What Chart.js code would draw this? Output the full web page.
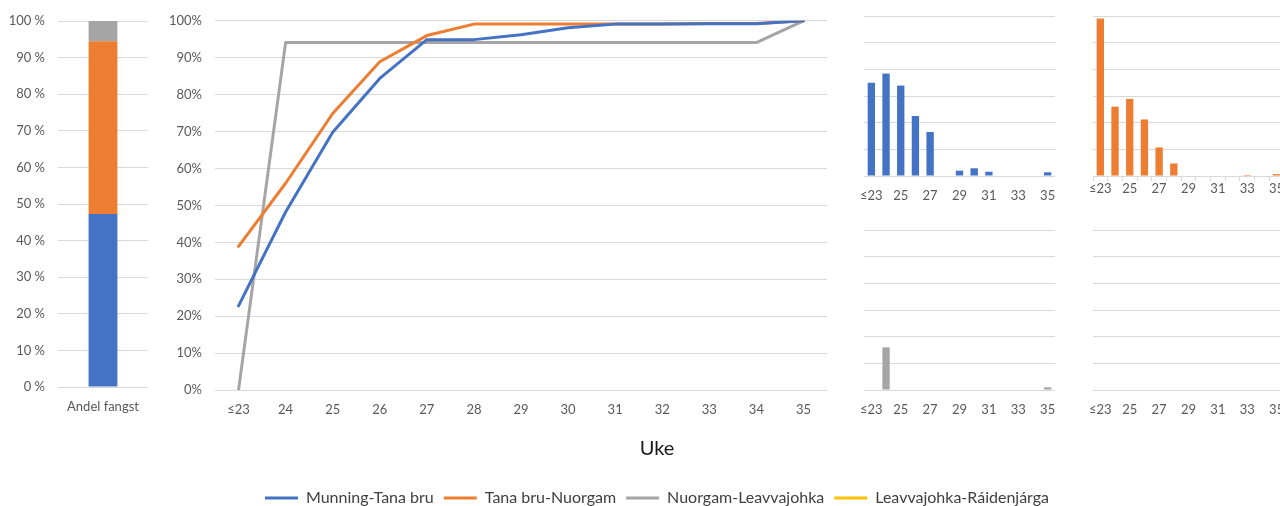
<!DOCTYPE html>
<html lang="no">
<head>
<meta charset="utf-8">
<title>Fangst per uke</title>
<script src="https://cdn.jsdelivr.net/npm/chart.js@4.4.1/dist/chart.umd.min.js"></script>
<style>
  html, body { margin: 0; padding: 0; overflow: hidden; background: #ffffff; }
  #figure { position: relative; width: 1314px; height: 516px; }
  #figure canvas { position: absolute; }
</style>
</head>
<body>
<div id="figure">
  <canvas id="lineChart" width="1314" height="516" style="left:0;top:0"></canvas>
  <canvas id="shareChart" width="160" height="420" style="left:0;top:0"></canvas>
  <canvas id="weekMunning" width="220" height="210" style="left:840px;top:0"></canvas>
  <canvas id="weekTanabru" width="229" height="210" style="left:1060px;top:0"></canvas>
  <canvas id="weekNuorgam" width="220" height="210" style="left:840px;top:210px"></canvas>
  <canvas id="weekLeavva" width="229" height="210" style="left:1060px;top:210px"></canvas>
</div>
<script>
// Uker (x-akse)
const weeks = ['≤23', '24', '25', '26', '27', '28', '29', '30', '31', '32', '33', '34', '35'];

// Strekninger
const seriesNames = ['Munning-Tana bru', 'Tana bru-Nuorgam', 'Nuorgam-Leavvajohka', 'Leavvajohka-Ráidenjárga'];
const seriesColors = ['#4472C4', '#ED7D31', '#A5A5A5', '#FFC000'];

// Kumulativ andel av fangsten per uke (%)
const cumMunning = [22.8, 48.2, 69.8, 84.4, 94.9, 94.9, 96.2, 98.1, 99.1, 99.1, 99.2, 99.2, 100];
const cumTanabru = [38.9, 56.0, 74.9, 88.9, 96.0, 99.1, 99.1, 99.1, 99.1, 99.1, 99.3, 99.3, 100];
const cumNuorgam = [0, 94.1, 94.1, 94.1, 94.1, 94.1, 94.1, 94.1, 94.1, 94.1, 94.1, 94.1, 100];
const cumLeavva = [null, null, null, null, null, null, null, null, null, null, null, null, null];

// Fangst per uke
const weekMunning = [350, 384, 339, 225, 165, 0, 20, 29, 16, 0, 0, 0, 14];
const weekTanabru = [591, 260, 289, 212, 107, 47, 0, 0, 0, 0, 4, 0, 7];
const weekNuorgam = [0, 160, 0, 0, 0, 0, 0, 0, 0, 0, 0, 0, 10];
const weekLeavva = [0, 0, 0, 0, 0, 0, 0, 0, 0, 0, 0, 0, 0];

// Andel av total fangst per strekning (%)
const catchShare = [47.3, 47.2, 5.5, 0];
const shareLabels = ['Andel fangst'];

const GRID = '#d9d9d9';
Chart.defaults.font.family = 'Lato, "Open Sans", sans-serif';
Chart.defaults.font.size = 13;
Chart.defaults.color = '#595959';

// Kumulativ fangst (linjediagram) med felles tittel og tegnforklaring
const cumulative = [cumMunning, cumTanabru, cumNuorgam, cumLeavva];
new Chart(document.getElementById('lineChart'), {
  type: 'line',
  data: {
    labels: weeks,
    datasets: seriesNames.map((name, i) => ({
      label: name,
      data: cumulative[i],
      borderColor: seriesColors[i],
      backgroundColor: seriesColors[i],
      borderWidth: 3,
      pointRadius: 0,
      pointHoverRadius: 0,
      tension: 0,
      borderJoinStyle: 'round',
      borderCapStyle: 'round'
    }))
  },
  options: {
    responsive: false,
    animation: false,
    layout: { padding: { top: 20, left: 0, right: 0, bottom: 0 } },
    scales: {
      x: {
        offset: true,
        grid: { display: false },
        border: { display: false },
        ticks: { autoSkip: false, maxRotation: 0, padding: 4 },
        afterFit(s) { s.height = 30; }
      },
      y: {
        min: 0, max: 100,
        ticks: { stepSize: 10, padding: 13, callback: v => v + '%' },
        grid: { color: GRID, drawTicks: false },
        border: { display: false },
        afterFit(s) { s.width = 215; }
      },
      yRight: {
        position: 'right',
        grid: { display: false },
        ticks: { display: false },
        border: { display: false },
        afterFit(s) { s.width = 487; }
      }
    },
    plugins: {
      legend: {
        position: 'bottom',
        labels: {
          usePointStyle: true,
          pointStyle: 'line',
          pointStyleWidth: 33,
          padding: 10,
          color: '#404040',
          font: { size: 16 }
        }
      },
      title: {
        display: true,
        text: 'Uke',
        position: 'bottom',
        weight: 500,
        color: '#1a1a1a',
        font: { size: 20, weight: 'normal' },
        padding: { top: 17, bottom: 19 }
      },
      tooltip: { enabled: false }
    }
  }
});

// Andel fangst (stablet søyle)
new Chart(document.getElementById('shareChart'), {
  type: 'bar',
  data: {
    labels: shareLabels,
    datasets: seriesNames.map((name, i) => ({
      label: name,
      data: [catchShare[i]],
      backgroundColor: seriesColors[i],
      categoryPercentage: 1,
      barPercentage: 0.32
    }))
  },
  options: {
    responsive: false,
    animation: false,
    layout: { padding: { top: 21, right: 12, left: 0, bottom: 0 } },
    scales: {
      x: {
        stacked: true,
        grid: { display: false },
        border: { display: false },
        ticks: { padding: 4 },
        afterFit(s) { s.height = 33; }
      },
      y: {
        stacked: true,
        min: 0, max: 100,
        ticks: { stepSize: 10, padding: 13, callback: v => v + ' %' },
        grid: { color: GRID, drawTicks: false },
        border: { display: false },
        afterFit(s) { s.width = 58; }
      }
    },
    plugins: { legend: { display: false }, tooltip: { enabled: false } }
  }
});

// Små søylediagram: fangst per uke for hver strekning
function weeklyChart(id, idx, values, opts) {
  const tickMarks = !!opts.tickMarks;
  return new Chart(document.getElementById(id), {
    type: 'bar',
    data: {
      labels: weeks,
      datasets: [{
        label: seriesNames[idx],
        data: values,
        backgroundColor: seriesColors[idx],
        categoryPercentage: 1,
        barPercentage: 0.5
      }]
    },
    options: {
      responsive: false,
      animation: false,
      layout: { padding: { top: opts.top, right: 5, left: 0, bottom: 0 } },
      scales: {
        x: {
          grid: tickMarks
            ? { display: true, drawOnChartArea: false, drawTicks: true, tickLength: 5, color: GRID }
            : { display: false },
          border: { display: tickMarks, color: GRID },
          ticks: {
            autoSkip: false,
            maxRotation: 0,
            padding: tickMarks ? 0 : 4,
            callback: (v, i) => (i % 2 === 0 ? weeks[i] : '')
          },
          afterFit(s) { s.height = opts.axisHeight; }
        },
        y: {
          min: 0, max: 600,
          ticks: { display: false, stepSize: 100 },
          grid: { color: GRID, drawTicks: false },
          border: { display: false },
          afterFit(s) { s.width = opts.yWidth; }
        }
      },
      plugins: { legend: { display: false }, tooltip: { enabled: false } }
    }
  });
}

weeklyChart('weekMunning', 0, weekMunning, { top: 16, axisHeight: 34, yWidth: 24 });
weeklyChart('weekTanabru', 1, weekTanabru, { top: 16, axisHeight: 34, yWidth: 33, tickMarks: true });
weeklyChart('weekNuorgam', 2, weekNuorgam, { top: 20, axisHeight: 30, yWidth: 24 });
weeklyChart('weekLeavva', 3, weekLeavva, { top: 20, axisHeight: 30, yWidth: 33 });
</script>
</body>
</html>
